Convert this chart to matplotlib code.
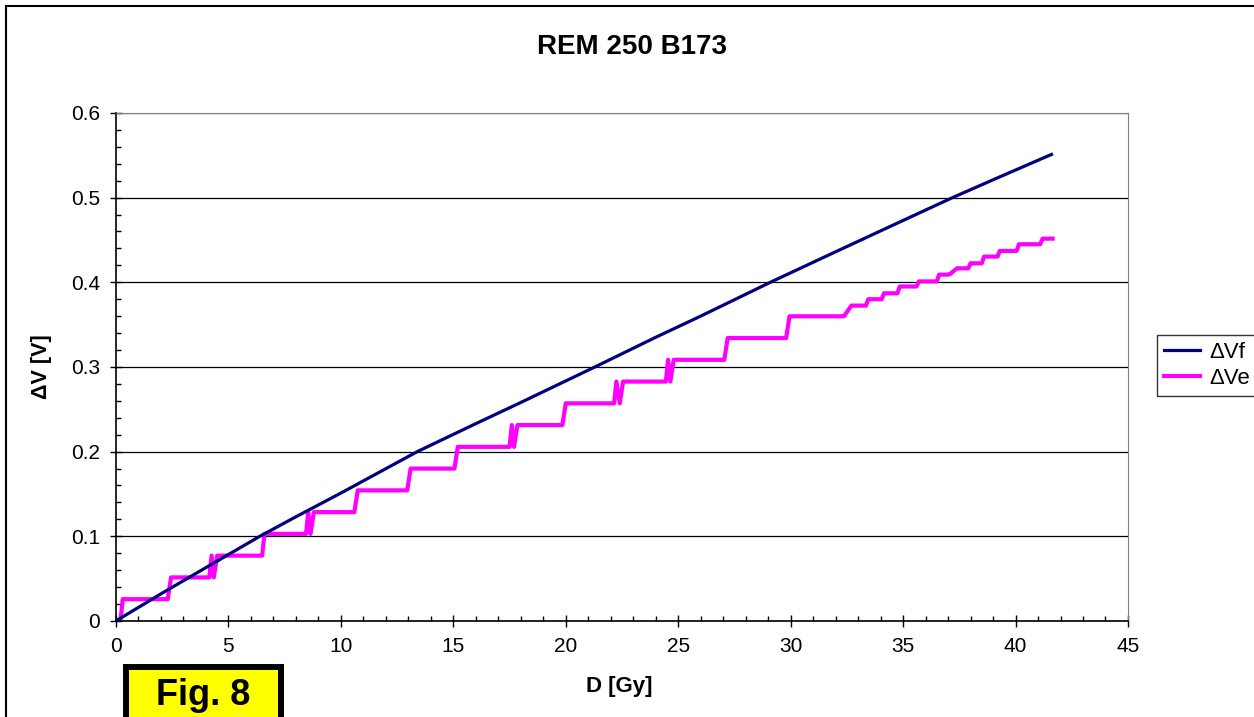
import numpy as np
import matplotlib
matplotlib.use("Agg")
import matplotlib.pyplot as plt
from matplotlib.patches import Rectangle
from matplotlib.ticker import MultipleLocator

plt.rcParams['font.family'] = ['Liberation Sans', 'DejaVu Sans']

# dose [Gy] and voltage shifts [V]
vf_dose = [0, 2, 4, 6.4, 8, 10, 13.4, 16, 18, 21.3, 24, 26, 29.1, 32, 35, 37.2, 39, 41.6]
vf_volt = [0, 0.032, 0.063, 0.100, 0.123, 0.151, 0.200, 0.233, 0.258, 0.300,
           0.335, 0.360, 0.400, 0.436, 0.473, 0.500, 0.521, 0.551]

ve_dose = [0.0, 0.2, 0.3, 2.3, 2.45, 4.15, 4.25, 4.35, 4.5, 6.5, 6.6, 8.45, 8.55, 8.65, 8.8,
           10.6, 10.75, 12.95, 13.1, 15.05, 15.2, 17.5, 17.6, 17.7, 17.85, 19.85, 20.0,
           22.15, 22.25, 22.4, 22.55, 24.45, 24.55, 24.65, 24.8, 27.05, 27.2, 29.8, 29.95,
           32.3, 32.35, 32.4, 32.7, 33.35, 33.45, 34.05, 34.15, 34.75, 34.85, 35.6, 35.7,
           36.5, 36.6, 36.95, 37.0, 37.1, 37.4, 37.9, 38.0, 38.5, 38.6, 39.2, 39.3,
           40.05, 40.15, 41.1, 41.2, 41.65]
ve_volt = [0.0, 0.0, 0.0257, 0.0257, 0.0514, 0.0514, 0.0771, 0.0514, 0.0771, 0.0771, 0.1028,
           0.1028, 0.1285, 0.1028, 0.1285, 0.1285, 0.1542, 0.1542, 0.1799, 0.1799, 0.2056,
           0.2056, 0.2313, 0.2056, 0.2313, 0.2313, 0.257, 0.257, 0.2827, 0.257, 0.2827,
           0.2827, 0.3084, 0.2827, 0.3084, 0.3084, 0.3341, 0.3341, 0.3598, 0.3598, np.nan,
           0.361, 0.3724, 0.3724, 0.380, 0.380, 0.387, 0.387, 0.395, 0.395, 0.401, 0.401,
           0.409, 0.409, np.nan, 0.410, 0.4165, 0.4165, 0.4224, 0.4224, 0.4303, 0.4303,
           0.437, 0.437, 0.4449, 0.4449, 0.4515, 0.4515]

fig = plt.figure(figsize=(12.54, 7.17), dpi=100)
ax = fig.add_axes([0.0925, 0.134, 0.807, 0.7085])

ax.plot(vf_dose, vf_volt, color='#000080', lw=2.3, label='ΔVf', zorder=3)
ax.plot(ve_dose, ve_volt, color='#FF00FF', lw=3.0, label='ΔVe', zorder=2)

ax.set_xlim(0, 45)
ax.set_ylim(0, 0.6)
ax.xaxis.set_major_locator(MultipleLocator(5))
ax.xaxis.set_minor_locator(MultipleLocator(1))
ax.yaxis.set_major_locator(MultipleLocator(0.1))
ax.yaxis.set_minor_locator(MultipleLocator(0.02))
ax.set_yticks(np.arange(0, 0.61, 0.1))
ax.set_yticklabels(['0', '0.1', '0.2', '0.3', '0.4', '0.5', '0.6'])
ax.tick_params(which='major', direction='inout', length=9, width=1, labelsize=15, pad=7)
ax.tick_params(which='minor', direction='in', length=3.5, width=1)
ax.grid(axis='y', which='major', color='black', lw=0.9)

for s in ['top', 'right']:
    ax.spines[s].set_color('#808080')
for s in ['left', 'bottom']:
    ax.spines[s].set_color('black')
    ax.spines[s].set_linewidth(1.2)

fig.text(0.504, 0.935, 'REM 250 B173', ha='center', va='center', fontsize=20, fontweight='bold')
fig.text(0.033, 0.488, 'ΔV [V]', ha='center', va='center', rotation=90, fontsize=15.5, fontweight='bold')
fig.text(0.494, 0.042, 'D [Gy]', ha='center', va='center', fontsize=16, fontweight='bold')

leg = fig.legend(loc='upper left', bbox_to_anchor=(0.923, 0.533), fontsize=16,
                 frameon=True, fancybox=False, handlelength=1.6, handletextpad=0.45,
                 borderpad=0.3, labelspacing=0.25, borderaxespad=0)
leg.get_frame().set_edgecolor('black')
leg.get_frame().set_linewidth(1)

# outer chart border
fig.patches.append(Rectangle((6 / 1254, -0.05), 1.1, (711 / 717) + 0.05, transform=fig.transFigure,
                             fill=False, edgecolor='black', lw=1.5))

# figure tag
fig.patches.append(Rectangle((126 / 1254, -0.05), 155 / 1254, 0.05 + 50 / 717,
                             transform=fig.transFigure, facecolor='#FFFF00',
                             edgecolor='black', lw=4.3))
fig.text(0.1623, 0.0167, 'Fig. 8', ha='center', va='baseline', fontsize=26, fontweight='bold')

fig.savefig('out.png', dpi=100)
